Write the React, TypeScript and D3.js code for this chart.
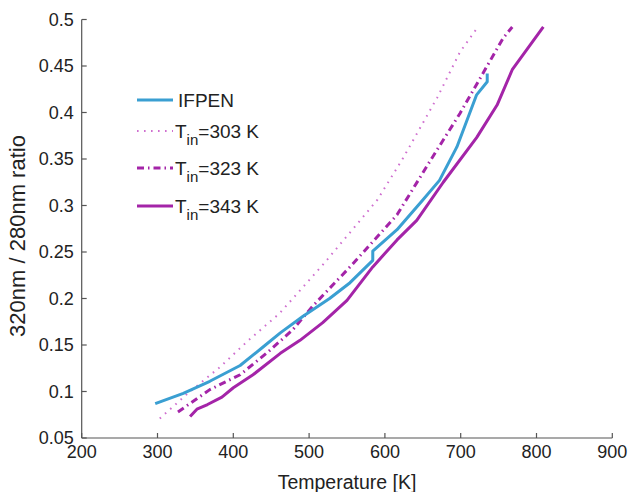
import React from "react";
import * as d3 from "d3";

const ifpenT = [297, 334, 369, 409, 438, 462, 492, 527, 554, 584, 584, 616, 650, 672, 695, 721, 735, 735];
const ifpenV = [0.087, 0.098, 0.111, 0.128, 0.147, 0.163, 0.181, 0.2, 0.217, 0.241, 0.251, 0.274, 0.306, 0.327, 0.363, 0.419, 0.433, 0.442];

const t303T = [303, 340, 382, 420, 461, 520, 590, 624, 669, 699, 721];
const t303V = [0.071, 0.098, 0.126, 0.155, 0.184, 0.238, 0.306, 0.351, 0.416, 0.465, 0.49];

const t323T = [327, 369, 409, 445, 478, 505, 554, 616, 659, 699, 756, 768];
const t323V = [0.078, 0.102, 0.118, 0.142, 0.166, 0.192, 0.234, 0.29, 0.347, 0.399, 0.48, 0.492];

const t343T = [343, 352, 366, 385, 400, 426, 462, 488, 518, 550, 584, 616, 642, 677, 721, 748, 768, 809];
const t343V = [0.073, 0.081, 0.086, 0.094, 0.104, 0.118, 0.141, 0.155, 0.174, 0.198, 0.234, 0.263, 0.284, 0.325, 0.373, 0.408, 0.446, 0.492];

const xTicks = [200, 300, 400, 500, 600, 700, 800, 900];
const yTicks = [0.05, 0.1, 0.15, 0.2, 0.25, 0.3, 0.35, 0.4, 0.45, 0.5];

const BLUE = "#3a9fd2";
const MAG = "#a424a8";
const PINK = "#cf6fcf";

export default function App() {
  const W = 630, H = 492;
  const x = d3.scaleLinear().domain([200, 900]).range([81.7, 612.3]);
  const y = d3.scaleLinear().domain([0.05, 0.5]).range([438, 19.5]);
  const line = d3.line<[number, number]>().x(d => x(d[0])).y(d => y(d[1]));
  const zip = (a: number[], b: number[]) => a.map((t, i) => [t, b[i]] as [number, number]);

  const font = "'Liberation Sans', Arial, Helvetica, sans-serif";
  const axisColor = "#555";

  const series = [
    { d: zip(t303T, t303V), color: PINK, w: 2, dash: "1.6,5.4" },
    { d: zip(t323T, t323V), color: MAG, w: 3, dash: "7,4,1.5,4" },
    { d: zip(t343T, t343V), color: MAG, w: 3, dash: undefined },
    { d: zip(ifpenT, ifpenV), color: BLUE, w: 3, dash: undefined },
  ];

  const legend = [
    { label: "IFPEN", sub: null, color: BLUE, w: 3, dash: undefined as string | undefined, y: 100 },
    { label: "T", sub: "=303 K", color: PINK, w: 2, dash: "1.6,5.4", y: 131 },
    { label: "T", sub: "=323 K", color: MAG, w: 3, dash: "7,4,1.5,4", y: 168 },
    { label: "T", sub: "=343 K", color: MAG, w: 3, dash: undefined, y: 206 },
  ];

  return (
    <svg width={W} height={H} style={{ position: "absolute", left: 0, top: 0 }} fontFamily={font}>
      <rect width={W} height={H} fill="#fff" />
      <line x1={x(200)} x2={x(900)} y1={y(0.05)} y2={y(0.05)} stroke={axisColor} strokeWidth={1.2} />
      <line x1={x(200)} x2={x(200)} y1={y(0.05)} y2={y(0.5)} stroke={axisColor} strokeWidth={1.2} />
      {xTicks.map(t => (
        <g key={"x" + t}>
          <line x1={x(t)} x2={x(t)} y1={y(0.05)} y2={y(0.05) - 5} stroke={axisColor} strokeWidth={1.2} />
          <text x={x(t)} y={y(0.05) + 20} textAnchor="middle" fontSize={18} fill="#222">{t}</text>
        </g>
      ))}
      {yTicks.map(t => (
        <g key={"y" + t}>
          <line x1={x(200)} x2={x(200) + 5} y1={y(t)} y2={y(t)} stroke={axisColor} strokeWidth={1.2} />
          <text x={x(200) - 8} y={y(t) + 6} textAnchor="end" fontSize={18} fill="#222">{String(t)}</text>
        </g>
      ))}
      <text x={(x(200) + x(900)) / 2} y={489} textAnchor="middle" fontSize={19.5} fill="#222">Temperature [K]</text>
      <text transform={`translate(25,236) rotate(-90)`} textAnchor="middle" fontSize={22} fill="#222">320nm / 280nm ratio</text>
      {series.map((s, i) => (
        <path key={i} d={line(s.d) || ""} fill="none" stroke={s.color} strokeWidth={s.w} strokeDasharray={s.dash} strokeLinejoin="round" />
      ))}
      {legend.map((l, i) => (
        <g key={"l" + i}>
          <line x1={137} x2={173} y1={l.y} y2={l.y} stroke={l.color} strokeWidth={l.w} strokeDasharray={l.dash} />
          {l.sub === null ? (
            <text x={178} y={l.y + 7} fontSize={19} fill="#222">{l.label}</text>
          ) : (
            <text x={175} y={l.y + 7} fontSize={19} fill="#222">
              {l.label}
              <tspan fontSize={15} dy={7}>in</tspan>
              <tspan dy={-7}>{l.sub}</tspan>
            </text>
          )}
        </g>
      ))}
    </svg>
  );
}
